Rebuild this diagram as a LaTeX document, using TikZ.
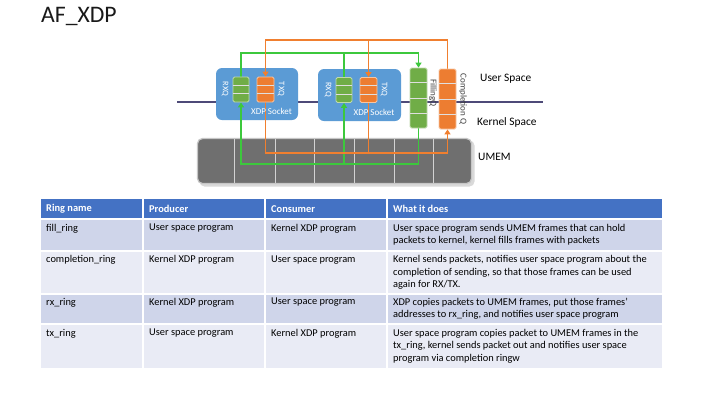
\documentclass[tikz,border=0pt]{standalone}
\usepackage{fontspec}
\setmainfont{Carlito}
\usetikzlibrary{arrows.meta,calc}
\definecolor{sockblue}{HTML}{5B9BD5}
\definecolor{qgreen}{HTML}{70AD47}
\definecolor{qorange}{HTML}{ED7D31}
\definecolor{lgreen}{HTML}{3CC83C}
\definecolor{lorange}{HTML}{F07F2F}
\definecolor{hdrblue}{HTML}{4472C4}
\definecolor{rowdark}{HTML}{CFD5EA}
\definecolor{rowlight}{HTML}{E9EBF5}
\definecolor{kline}{HTML}{4E4A78}
\definecolor{umemgray}{HTML}{6F6F6F}
\definecolor{labtext}{HTML}{404040}
\pgfdeclarelayer{paper}
\pgfdeclarelayer{bg}
\pgfdeclarelayer{mid}
\pgfsetlayers{paper,bg,mid,main}
\newcommand\qcells[3]{\foreach \k in {#3}{\draw[qdiv] ($(#1.north west)!\k/#2!(#1.south west)$) -- ($(#1.north east)!\k/#2!(#1.south east)$);}}
\tikzset{
  socket/.style={fill=sockblue, draw=none, rounded corners=6pt, inner sep=0pt},
  gq/.style={fill=qgreen, draw=qgreen!45!white, line width=0.8pt, rounded corners=1.5pt, inner sep=0pt, minimum width=16pt},
  oq/.style={fill=qorange, draw=qorange!45!white, line width=0.8pt, rounded corners=1.5pt, inner sep=0pt, minimum width=17pt},
  qdiv/.style={draw=white!75!gray, line width=0.8pt},
  gline/.style={draw=lgreen, line width=1.3pt},
  oline/.style={draw=lorange, line width=1.3pt},
  tip/.style={-{Triangle[length=5pt,width=6pt]}},
  socklab/.style={text=white, font=\fontsize{9}{10}\selectfont, inner sep=0pt},
  qlab/.style={text=white, font=\fontsize{8.5}{10}\selectfont, inner sep=0pt, rotate=-90},
  sidelab/.style={text=labtext, font=\fontsize{9}{10}\selectfont, inner sep=0pt, rotate=-90},
  spacelab/.style={text=black, font=\fontsize{11.4}{13}\selectfont, inner sep=0pt, anchor=west},
  umemstyle/.style={fill=umemgray, draw=gray!45, line width=1.2pt, rounded corners=5pt, inner sep=0pt},
  udiv/.style={draw=gray!35, line width=1pt},
  cell/.style={anchor=north west, inner sep=0pt, align=left, font=\fontsize{10.4}{12.3}\selectfont},
  hcell/.style={anchor=west, inner sep=0pt, text=white, font=\fontsize{10.4}{12}\selectfont\bfseries},
  sep/.style={draw=white, line width=1.5pt}
}
\begin{document}
\begin{tikzpicture}[x=1pt,y=-1pt]
\begin{pgfonlayer}{paper}
  \fill[white] (0,0) rectangle (720,405);
\end{pgfonlayer}
\useasboundingbox (0,0) rectangle (720,405);

% title
\node[anchor=west, inner sep=0pt, font=\fontsize{23.7}{26}\selectfont, text=black!90] (title) at (41,16) {AF\_XDP};

% background layer: kernel line, sockets, UMEM
\begin{pgfonlayer}{bg}
  \coordinate (kl) at (177,102);
  \coordinate (kr) at (543,102);
  \draw[draw=kline, line width=1.3pt] (kl) -- (kr);
  \node[socket, minimum width=82pt, minimum height=52pt] (s1) at (257,94) {};
  \node[socket, minimum width=83pt, minimum height=52pt] (s2) at (359.5,95) {};
  \fill[gray!30] (199.5,140.5) [rounded corners=5pt] rectangle (474.5,186.5);
  \node[umemstyle, minimum width=274pt, minimum height=45pt] (umem) at (334.5,161) {};
  \foreach \x in {234,275,314,354,394,433}
    \draw[udiv] (\x,139) -- (\x,183);
\end{pgfonlayer}

% queues
\node[gq, minimum height=25pt] (rx1) at (241,89.5) {};
\node[oq, minimum height=25pt] (tx1) at (265.5,89.5) {};
\node[gq, minimum height=25pt] (rx2) at (344,90) {};
\node[oq, minimum height=25pt] (tx2) at (368.5,90) {};
\node[oq, minimum height=60pt, minimum width=17pt] (cq) at (447.5,99) {};
\node[gq, minimum height=60pt, minimum width=17pt] (fq) at (418.5,98) {};
\qcells{rx1}{3}{1,2}
\qcells{tx1}{3}{1,2}
\qcells{rx2}{3}{1,2}
\qcells{tx2}{3}{1,2}
\qcells{fq}{4}{1,2,3}
\qcells{cq}{4}{1,2,3}

% socket labels
\node[qlab] (rxl1) at (225,89) {RXQ};
\node[qlab] (txl1) at (281,89) {TXQ};
\node[socklab] (xs1) at (271.5,111) {XDP Socket};
\node[qlab] (rxl2) at (328,89.5) {RXQ};
\node[qlab] (txl2) at (384,89.5) {TXQ};
\node[socklab] (xs2) at (374,112) {XDP Socket};
\node[sidelab] (fql) at (433,93) {FillingQ};
\node[sidelab] (cql) at (463,99) {Completion Q};

% space labels
\node[spacelab] (us) at (480,79) {User Space};
\node[spacelab] (ks) at (477,122) {Kernel Space};
\node[spacelab] (um) at (478,157) {UMEM};

% connectors
\coordinate (gtop) at (0,53);
\coordinate (gbot) at (0,164);
\coordinate (otop) at (0,40);
\coordinate (obot) at (0,153);
\coordinate (gb2) at (rx2.south |- gbot);
\coordinate (ot2) at (tx2.north |- otop);
\begin{pgfonlayer}{mid}
  % green: RX queues -> fill queue (top), fill queue -> RX queues (bottom)
  \draw[gline, tip] (rx1.north) -- (rx1.north |- gtop) -| (fq.north);
  \draw[gline] (rx2.north) -- (rx2.north |- gtop);
  \draw[gline, tip] (fq.south) -- (fq.south |- gbot) -| (rx1.south);
  \draw[gline, tip] (gb2) -- (rx2.south);
  % orange: completion queue -> TX queues (top), TX queues -> completion queue (bottom)
  \draw[oline, tip] (cq.north) -- (cq.north |- otop) -| (tx1.north);
  \draw[oline, tip] (ot2) -- (tx2.north);
  \draw[oline, tip] (tx1.south) -- (tx1.south |- obot) -| (cq.south);
  \draw[oline] (tx2.south) -- (tx2.south |- obot);
\end{pgfonlayer}

% table
\fill[hdrblue] (41,199) rectangle (662,219);
\fill[rowdark] (41,219) rectangle (662,251);
\fill[rowlight] (41,251) rectangle (662,294);
\fill[rowdark] (41,294) rectangle (662,324);
\fill[rowlight] (41,324) rectangle (662,368);
\foreach \y in {219,251,294,324}
  \draw[sep] (41,\y) -- (662,\y);
\foreach \x in {143,265,387}
  \draw[sep] (\x,199) -- (\x,368);

\node[hcell] (h1) at (46,209) {Ring name};
\node[hcell] (h2) at (149,209) {Producer};
\node[hcell] (h3) at (271,209) {Consumer};
\node[hcell] (h4) at (393,209) {What it does};

\node[cell] (a1) at (46,224) {fill\_ring};
\node[cell] (b1) at (149,224) {User space program};
\node[cell] (c1) at (271,224) {Kernel XDP program};
\node[cell] (d1) at (393,224) {User space program sends UMEM frames that can hold\\packets to kernel, kernel fills frames with packets};

\node[cell] (a2) at (46,255.5) {completion\_ring};
\node[cell] (b2) at (149,255.5) {Kernel XDP program};
\node[cell] (c2) at (271,255.5) {User space program};
\node[cell] (d2) at (393,255.5) {Kernel sends packets, notifies user space program about the\\completion of sending, so that those frames can be used\\again for RX/TX.};

\node[cell] (a3) at (46,298) {rx\_ring};
\node[cell] (b3) at (149,298) {Kernel XDP program};
\node[cell] (c3) at (271,298) {User space program};
\node[cell] (d3) at (393,298) {XDP copies packets to UMEM frames, put those frames’\\addresses to rx\_ring, and notifies user space program};

\node[cell] (a4) at (46,329) {tx\_ring};
\node[cell] (b4) at (149,329) {User space program};
\node[cell] (c4) at (271,329) {Kernel XDP program};
\node[cell] (d4) at (393,329) {User space program copies packet to UMEM frames in the\\tx\_ring, kernel sends packet out and notifies user space\\program via completion ringw};
\end{tikzpicture}
\end{document}
